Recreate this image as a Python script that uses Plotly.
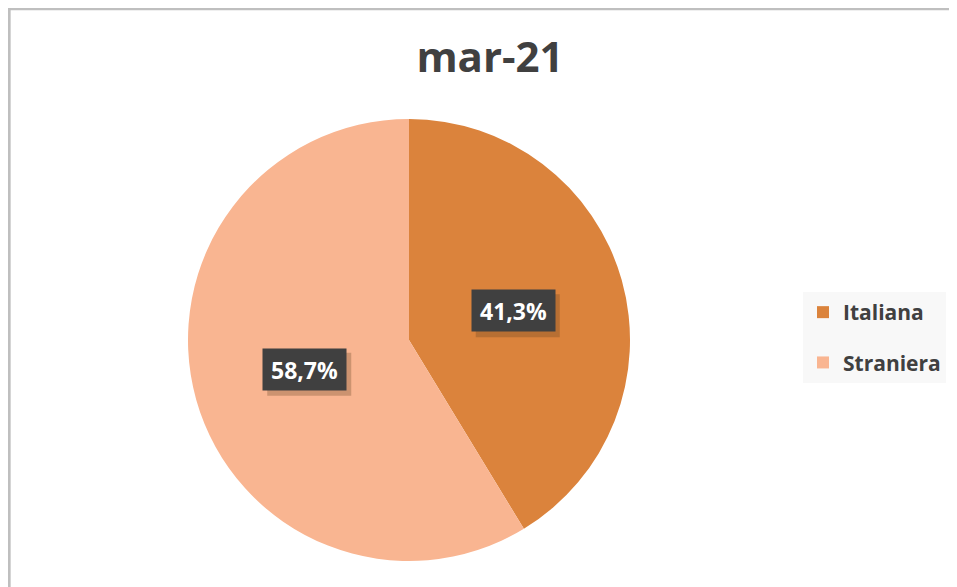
import math
import plotly.graph_objects as go

title = "mar-21"
labels = ["Italiana", "Straniera"]
values = [41.3, 58.7]
colors = ["#DB833C", "#F9B591"]

W, H = 957, 587
OFF = 8  # page body margin offset


def fx(px):
    return (px - OFF) / W


def fy(py):
    return 1 - (py - OFF) / H


cx, cy, R = 409, 340, 221  # pie centre / radius (screen px)

fig = go.Figure()
fig.add_trace(go.Pie(
    labels=labels, values=values, sort=False, direction="clockwise", rotation=0,
    marker=dict(colors=colors, line=dict(width=0)),
    textinfo="none", hoverinfo="label+percent", showlegend=False,
    domain=dict(x=[fx(cx - R), fx(cx + R)], y=[fy(cy + R), fy(cy - R)]),
))

for lab, col in zip(labels, colors):
    fig.add_trace(go.Scatter(x=[None], y=[None], mode="markers", name=f"<b>{lab}</b>",
                             legendgroup=lab,
                             marker=dict(symbol="square", size=14, color=col)))

shapes = [
    dict(type="line", xref="paper", yref="paper", x0=0, x1=1, y0=1 - 1 / H, y1=1 - 1 / H,
         line=dict(color="#BFBFBF", width=2.5)),
    dict(type="line", xref="paper", yref="paper", x0=1.3 / W, x1=1.3 / W, y0=0, y1=1,
         line=dict(color="#BFBFBF", width=2.7)),
]

total = sum(values)
start = 0.0
BW, BH = 83, 41
for v in values:
    mid = start + v / total * 360 / 2
    start += v / total * 360
    a = math.radians(mid)
    px = cx + 0.49 * R * math.sin(a)
    py = cy - 0.49 * R * math.cos(a)
    txt = f"{v / total * 100:.1f}%".replace(".", ",")
    shapes.append(dict(type="rect", xref="paper", yref="paper",
                       xsizemode="pixel", ysizemode="pixel",
                       xanchor=fx(px), yanchor=fy(py),
                       x0=-BW / 2 + 4, x1=BW / 2 + 5, y0=-BH / 2 - 6, y1=BH / 2 - 4,
                       fillcolor="rgba(90,60,30,0.28)", line=dict(width=0), layer="above"))
    fig.add_annotation(x=fx(px), y=fy(py), xref="paper", yref="paper",
                       xanchor="center", yanchor="middle",
                       text=f"<b>{txt}</b>", showarrow=False, bgcolor="#404040",
                       width=BW - 6, height=BH - 6, borderpad=3,
                       font=dict(family="Open Sans", size=23, color="white"))

fig.update_layout(
    width=W, height=H, margin=dict(l=0, r=0, t=0, b=0),
    paper_bgcolor="white", plot_bgcolor="white",
    title=dict(text=f"<b>{title}</b>", x=fx(490), xanchor="center", y=fy(57), yanchor="middle",
               font=dict(family="Open Sans", size=42, color="#404040")),
    xaxis=dict(visible=False), yaxis=dict(visible=False),
    legend=dict(x=fx(803), y=fy(292), xanchor="left", yanchor="top",
                bgcolor="#F8F8F8", font=dict(family="Open Sans", size=21, color="#404040"),
                tracegroupgap=20, itemsizing="constant"),
    shapes=shapes,
)
fig.write_html("out.html")
